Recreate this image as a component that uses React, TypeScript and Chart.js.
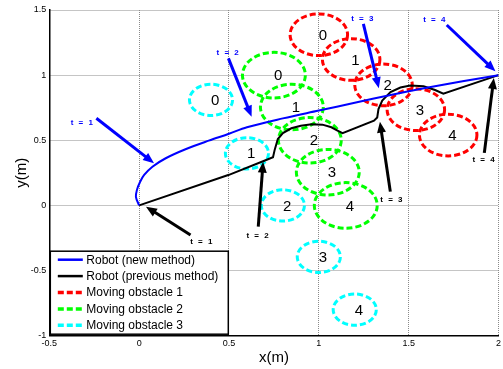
import React, { useEffect, useRef } from "react";
import { Chart, registerables } from "chart.js";

Chart.register(...registerables);

// ---- axes ----
const X_TICKS = [-0.5, 0, 0.5, 1, 1.5, 2];
const Y_TICKS = [-1, -0.5, 0, 0.5, 1, 1.5];

// ---- robot paths ----
const robotNewX = [0, -0.018, -0.012, 0.005, 0.028, 0.074, 0.148, 0.258, 0.387, 0.5, 0.6, 0.8, 1.0, 1.2, 1.4, 1.6, 1.8, 2.0];
const robotNewY = [0, 0.065, 0.12, 0.18, 0.234, 0.297, 0.362, 0.431, 0.497, 0.55, 0.6, 0.668, 0.728, 0.788, 0.848, 0.903, 0.953, 1.0];

const robotPrevX = [0, 0.5, 0.7, 0.745, 0.755, 0.772, 0.8, 0.847, 0.9, 0.96, 1.02, 1.07, 1.104, 1.132, 1.307, 1.325, 1.332, 1.353, 1.399, 1.454, 1.509, 1.583, 1.647, 1.693, 2.0];
const robotPrevY = [0, 0.235, 0.345, 0.37, 0.43, 0.51, 0.555, 0.592, 0.612, 0.623, 0.62, 0.6, 0.575, 0.555, 0.65, 0.675, 0.74, 0.805, 0.87, 0.905, 0.92, 0.915, 0.886, 0.858, 1.0];

// ---- moving obstacles (centres at t = 0..4, radius) ----
const obstacleTimes = ["0", "1", "2", "3", "4"];
const obstacle1X = [1.0, 1.18, 1.36, 1.54, 1.72];
const obstacle1Y = [1.31, 1.12, 0.925, 0.735, 0.54];
const obstacle1R = 0.16;
const obstacle2X = [0.75, 0.85, 0.95, 1.05, 1.15];
const obstacle2Y = [1.0, 0.755, 0.5, 0.255, 0.0];
const obstacle2R = 0.175;
const obstacle3X = [0.4, 0.6, 0.8, 1.0, 1.2];
const obstacle3Y = [0.81, 0.4, 0.0, -0.395, -0.8];
const obstacle3R = 0.12;

// ---- time annotations (arrows) ----
const arrowLabels = ["t = 1", "t = 2", "t = 3", "t = 4", "t = 1", "t = 2", "t = 3", "t = 4"];
const arrowColors = ["#0000ff", "#0000ff", "#0000ff", "#0000ff", "#000000", "#000000", "#000000", "#000000"];
const arrowTextX = [-0.315, 0.497, 1.246, 1.647, 0.35, 0.663, 1.408, 1.921];
const arrowTextY = [0.635, 1.172, 1.436, 1.423, -0.283, -0.234, 0.042, 0.349];
const arrowTailX = [-0.238, 0.497, 1.248, 1.712, 0.286, 0.663, 1.398, 1.921];
const arrowTailY = [0.669, 1.129, 1.393, 1.385, -0.227, -0.163, 0.106, 0.403];
const arrowHeadX = [0.083, 0.626, 1.334, 1.983, 0.038, 0.69, 1.34, 1.974];
const arrowHeadY = [0.323, 0.681, 0.9, 1.03, -0.01, 0.336, 0.643, 0.978];

// ---- legend ----
const legendLabels = ["Robot (new method)", "Robot (previous method)", "Moving obstacle 1", "Moving obstacle 2", "Moving obstacle 3"];
const legendColors = ["#0000ff", "#000000", "#ff0000", "#00ff00", "#00ffff"];
const legendDashed = [false, false, true, true, true];

const FONT = "'Liberation Sans', Arial, sans-serif";

const obstaclePlugin = {
  id: "obstacles",
  beforeDatasetsDraw(chart: any) {
    const { ctx, scales } = chart;
    const xs = scales.x, ys = scales.y;
    const groups = [
      { X: obstacle1X, Y: obstacle1Y, R: obstacle1R, color: "#ff0000" },
      { X: obstacle2X, Y: obstacle2Y, R: obstacle2R, color: "#00ff00" },
      { X: obstacle3X, Y: obstacle3Y, R: obstacle3R, color: "#00ffff" },
    ];
    ctx.save();
    for (const g of groups) {
      for (let i = 0; i < g.X.length; i++) {
        const cx = xs.getPixelForValue(g.X[i]);
        const cy = ys.getPixelForValue(g.Y[i]);
        const rx = Math.abs(xs.getPixelForValue(g.X[i] + g.R) - cx);
        const ry = Math.abs(ys.getPixelForValue(g.Y[i] + g.R) - cy);
        ctx.beginPath();
        ctx.ellipse(cx, cy, rx, ry, 0, 0, Math.PI * 2);
        ctx.strokeStyle = g.color;
        ctx.lineWidth = 3;
        ctx.setLineDash([6, 3]);
        ctx.stroke();
      }
    }
    ctx.setLineDash([]);
    ctx.fillStyle = "#000";
    ctx.font = `15px ${FONT}`;
    ctx.textAlign = "left";
    ctx.textBaseline = "middle";
    for (const g of groups) {
      for (let i = 0; i < g.X.length; i++) {
        const cx = xs.getPixelForValue(g.X[i]);
        const cy = ys.getPixelForValue(g.Y[i]);
        ctx.fillText(obstacleTimes[i], cx, cy + 1);
      }
    }
    ctx.restore();
  },
};

const arrowPlugin = {
  id: "arrows",
  afterDatasetsDraw(chart: any) {
    const { ctx, scales } = chart;
    const xs = scales.x, ys = scales.y;
    ctx.save();
    for (let i = 0; i < arrowLabels.length; i++) {
      const x0 = xs.getPixelForValue(arrowTailX[i]);
      const y0 = ys.getPixelForValue(arrowTailY[i]);
      const x1 = xs.getPixelForValue(arrowHeadX[i]);
      const y1 = ys.getPixelForValue(arrowHeadY[i]);
      const dx = x1 - x0, dy = y1 - y0;
      const len = Math.hypot(dx, dy);
      const ux = dx / len, uy = dy / len;
      const hl = 11, hw = 4.5;
      const bx = x1 - ux * hl, by = y1 - uy * hl;
      ctx.strokeStyle = arrowColors[i];
      ctx.fillStyle = arrowColors[i];
      ctx.lineWidth = 3;
      ctx.beginPath();
      ctx.moveTo(x0, y0);
      ctx.lineTo(bx + ux * 1, by + uy * 1);
      ctx.stroke();
      ctx.beginPath();
      ctx.moveTo(x1, y1);
      ctx.lineTo(bx - uy * hw, by + ux * hw);
      ctx.lineTo(bx + uy * hw, by - ux * hw);
      ctx.closePath();
      ctx.fill();
      const tx = xs.getPixelForValue(arrowTextX[i]);
      const ty = ys.getPixelForValue(arrowTextY[i]);
      ctx.font = `bold 8px ${FONT}`;
      (ctx as any).letterSpacing = "1.5px";
      ctx.textAlign = "center";
      ctx.textBaseline = "middle";
      ctx.fillText(arrowLabels[i], tx, ty);
      (ctx as any).letterSpacing = "0px";
    }
    ctx.restore();
  },
};

const legendPlugin = {
  id: "customLegend",
  afterDraw(chart: any) {
    const { ctx, chartArea } = chart;
    const left = chartArea.left + 1;
    const bottom = chartArea.bottom - 1.5;
    const w = 178;
    const h = 83;
    const top = bottom - h;
    ctx.save();
    ctx.fillStyle = "#fff";
    ctx.fillRect(left, top, w, h);
    ctx.strokeStyle = "#000";
    ctx.lineWidth = 1.5;
    ctx.strokeRect(left, top, w, h);
    ctx.font = `12px ${FONT}`;
    ctx.textAlign = "left";
    ctx.textBaseline = "middle";
    for (let i = 0; i < legendLabels.length; i++) {
      const y = top + 8.5 + i * 16.4;
      ctx.beginPath();
      ctx.strokeStyle = legendColors[i];
      if (legendDashed[i]) {
        ctx.lineWidth = 3.5;
        ctx.setLineDash([6, 3]);
      } else {
        ctx.lineWidth = 2.5;
        ctx.setLineDash([]);
      }
      ctx.moveTo(left + 7.5, y);
      ctx.lineTo(left + 32.5, y);
      ctx.stroke();
      ctx.setLineDash([]);
      ctx.fillStyle = "#000";
      ctx.fillText(legendLabels[i], left + 36, y + 0.5);
    }
    ctx.restore();
  },
};

export default function App() {
  const ref = useRef<HTMLCanvasElement | null>(null);
  useEffect(() => {
    document.body.style.margin = "0";
    const canvas = ref.current;
    if (!canvas) return;
    const tickFont = { family: FONT, size: 9 };
    const chart = new Chart(canvas, {
      type: "scatter",
      data: {
        datasets: [
          {
            label: legendLabels[0],
            data: robotNewX.map((x, i) => ({ x, y: robotNewY[i] })),
            showLine: true,
            borderColor: "#0000ff",
            backgroundColor: "#0000ff",
            borderWidth: 2,
            pointRadius: 0,
            tension: 0.35,
            fill: false,
          },
          {
            label: legendLabels[1],
            data: robotPrevX.map((x, i) => ({ x, y: robotPrevY[i] })),
            showLine: true,
            borderColor: "#000000",
            backgroundColor: "#000000",
            borderWidth: 2,
            pointRadius: 0,
            tension: 0,
            fill: false,
          },
        ],
      },
      options: {
        responsive: false,
        animation: false,
        devicePixelRatio: 1,
        layout: { padding: { top: 10, right: 0.7, left: 0, bottom: 0 } },
        plugins: {
          legend: { display: false },
          tooltip: { enabled: false },
        },
        scales: {
          x: {
            type: "linear",
            min: -0.5,
            max: 2,
            afterBuildTicks: (s: any) => {
              s.ticks = X_TICKS.map((v) => ({ value: v }));
            },
            afterFit: (s: any) => {
              s.height = 33.3;
            },
            ticks: {
              font: tickFont,
              color: "#000",
              padding: 2,
              maxRotation: 0,
              autoSkip: false,
              callback: (v: any) => String(v),
            },
            grid: { color: "#8a8a8a", drawTicks: false, lineWidth: 1 },
            border: { display: true, color: "#000", width: 1.5, dash: [1, 1] },
            title: {
              display: true,
              text: "x(m)",
              font: { family: FONT, size: 15 },
              color: "#000",
              padding: { top: 0, bottom: 2 },
            },
          },
          y: {
            type: "linear",
            min: -1,
            max: 1.5,
            afterBuildTicks: (s: any) => {
              s.ticks = Y_TICKS.map((v) => ({ value: v }));
            },
            afterFit: (s: any) => {
              s.width = 49.3;
            },
            ticks: {
              font: tickFont,
              color: "#000",
              padding: 3,
              autoSkip: false,
              callback: (v: any) => String(v),
            },
            grid: { color: "#8a8a8a", drawTicks: false, lineWidth: 1 },
            border: { display: true, color: "#000", width: 1.5, dash: [1, 1] },
            title: {
              display: true,
              text: "y(m)",
              font: { family: FONT, size: 15 },
              color: "#000",
              padding: { top: 13, bottom: 0 },
            },
          },
        },
      },
      plugins: [obstaclePlugin, arrowPlugin, legendPlugin],
    } as any);
    return () => chart.destroy();
  }, []);
  return (
    <div style={{ position: "absolute", left: 0, top: 0, width: 503, height: 369, background: "#fff" }}>
      <canvas ref={ref} width={503} height={369} style={{ width: 503, height: 369, display: "block" }} />
    </div>
  );
}
